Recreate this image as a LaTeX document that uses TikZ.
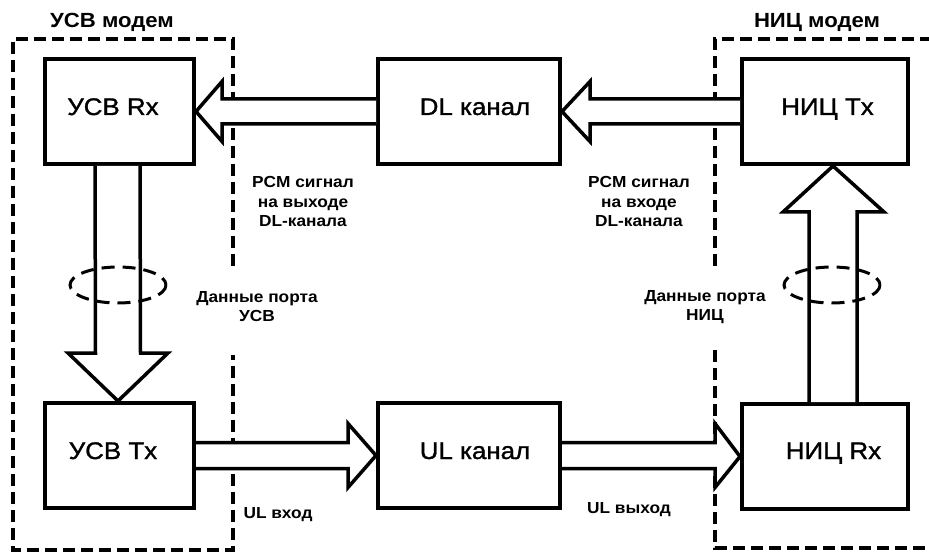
\documentclass[tikz,border=0pt]{standalone}
\usepackage{fontspec}
\setmainfont{Liberation Sans}[FakeStretch=1.08]
\newfontfamily\blockfont{Liberation Sans}[FakeStretch=1.08, FakeBold=1.2]
\usetikzlibrary{calc}
\begin{document}
\begin{tikzpicture}[x=1pt,y=-1pt,
  blockbox/.style={draw, line width=4pt, minimum height=105pt, inner sep=0pt},
  blocktext/.style={anchor=base, font=\blockfont\fontsize{24}{28}\selectfont, inner sep=0pt},
  titletext/.style={anchor=base, font=\bfseries\fontsize{20.5}{24}\selectfont, inner sep=0pt},
  smalltext/.style={align=center, font=\bfseries\fontsize{16}{19.5}\selectfont, inner sep=0pt},
  fatarrow/.style={draw, line width=3.5pt, fill=white, line join=miter, miter limit=10},
  modemline/.style={line width=3.5pt, dash pattern=on 12pt off 6pt},
  bundle/.style={line width=3pt, dash pattern=on 13pt off 8pt}]
\useasboundingbox (0,0) rectangle (929,553);
\fill[white] (0,0) rectangle (929,553);

% dashed modem outlines
\draw[modemline] (233,266) -- (233,39) -- (13,39) -- (13,550) -- (233,550) -- (233,355);
\draw[modemline] (715,266) -- (715,39) -- (945,39);
\draw[modemline] (715,350) -- (715,548) -- (945,548);

% blocks
\node[blockbox, minimum width=149pt] (usvrx) at (119.5,111.5) {};
\node[blockbox, minimum width=182pt] (dl) at (469,111.5) {};
\node[blockbox, minimum width=166pt] (niztx) at (825,111.5) {};
\node[blockbox, minimum width=149pt] (usvtx) at (119.5,455.5) {};
\node[blockbox, minimum width=182pt] (ul) at (469,455.5) {};
\node[blockbox, minimum width=166pt] (nizrx) at (825,456.5) {};

\node[blocktext] (tusvrx) at (113,115) {УСВ Rx};
\node[blocktext] (tdl) at (475,115) {DL канал};
\node[blocktext] (tniztx) at (827.5,115) {НИЦ Tx};
\node[blocktext] (tusvtx) at (113,459) {УСВ Tx};
\node[blocktext] (tul) at (475,459) {UL канал};
\node[blocktext] (tnizrx) at (833.5,459) {НИЦ Rx};

% horizontal fat arrows
\draw[fatarrow] ($(dl.west)+(0,-12.5)$) -- ($(usvrx.east)+(26,-12.5)$) -- ($(usvrx.east)+(26,-30)$) -- (usvrx.east) -- ($(usvrx.east)+(26,30)$) -- ($(usvrx.east)+(26,12.5)$) -- ($(dl.west)+(0,12.5)$);
\draw[fatarrow] ($(niztx.west)+(0,-12.5)$) -- ($(dl.east)+(28,-12.5)$) -- ($(dl.east)+(28,-30)$) -- (dl.east) -- ($(dl.east)+(28,30)$) -- ($(dl.east)+(28,12.5)$) -- ($(niztx.west)+(0,12.5)$);
\draw[fatarrow] ($(usvtx.east)+(0,-13)$) -- ($(ul.west)+(-28,-13)$) -- ($(ul.west)+(-28,-32)$) -- (ul.west) -- ($(ul.west)+(-28,32)$) -- ($(ul.west)+(-28,13)$) -- ($(usvtx.east)+(0,13)$);
\draw[fatarrow] ($(ul.east)+(0,-13)$) -- ($(nizrx.west)+(-25,-14)$) -- ($(nizrx.west)+(-25,-33)$) -- (nizrx.west) -- ($(nizrx.west)+(-25,31)$) -- ($(nizrx.west)+(-25,12)$) -- ($(ul.east)+(0,13)$);

% vertical fat arrows
\draw[fatarrow] ($(usvrx.south)+(-24.5,0)$) -- ($(usvtx.north)+(-24,-48)$) -- ($(usvtx.north)+(-51.5,-48)$) -- ($(usvtx.north)+(-1.5,0)$) -- ($(usvtx.north)+(48.5,-48)$) -- ($(usvtx.north)+(21,-48)$) -- ($(usvrx.south)+(20.5,0)$);
\draw[fatarrow] ($(nizrx.north)+(-16,0)$) -- ($(niztx.south)+(-16,46)$) -- ($(niztx.south)+(-42,46)$) -- ($(niztx.south)+(8,0)$) -- ($(niztx.south)+(59,46)$) -- ($(niztx.south)+(32,46)$) -- ($(nizrx.north)+(32,0)$);

% bundle ellipses
\draw[bundle] (118,285) ellipse [x radius=48, y radius=18];
\draw[bundle] (832,285) ellipse [x radius=48, y radius=18];

% titles
\node[titletext] (tusvmod) at (112,28) {УСВ модем};
\node[titletext] (tnizmod) at (817,28) {НИЦ модем};

% signal labels
\node[smalltext] (lpcmout) at (303,203.6) {\strut PCM сигнал\\\strut на выходе\\\strut DL-канала};
\node[smalltext] (lpcmin) at (639,203.6) {\strut PCM сигнал\\\strut на входе\\\strut DL-канала};
\node[smalltext] (lportusv) at (257,308) {\strut Данные порта\\\strut УСВ};
\node[smalltext] (lportniz) at (705,307) {\strut Данные порта\\\strut НИЦ};
\node[smalltext, anchor=base] (lulin) at (278,518) {UL вход};
\node[smalltext, anchor=base] (lulout) at (629,513) {UL выход};
\end{tikzpicture}
\end{document}
